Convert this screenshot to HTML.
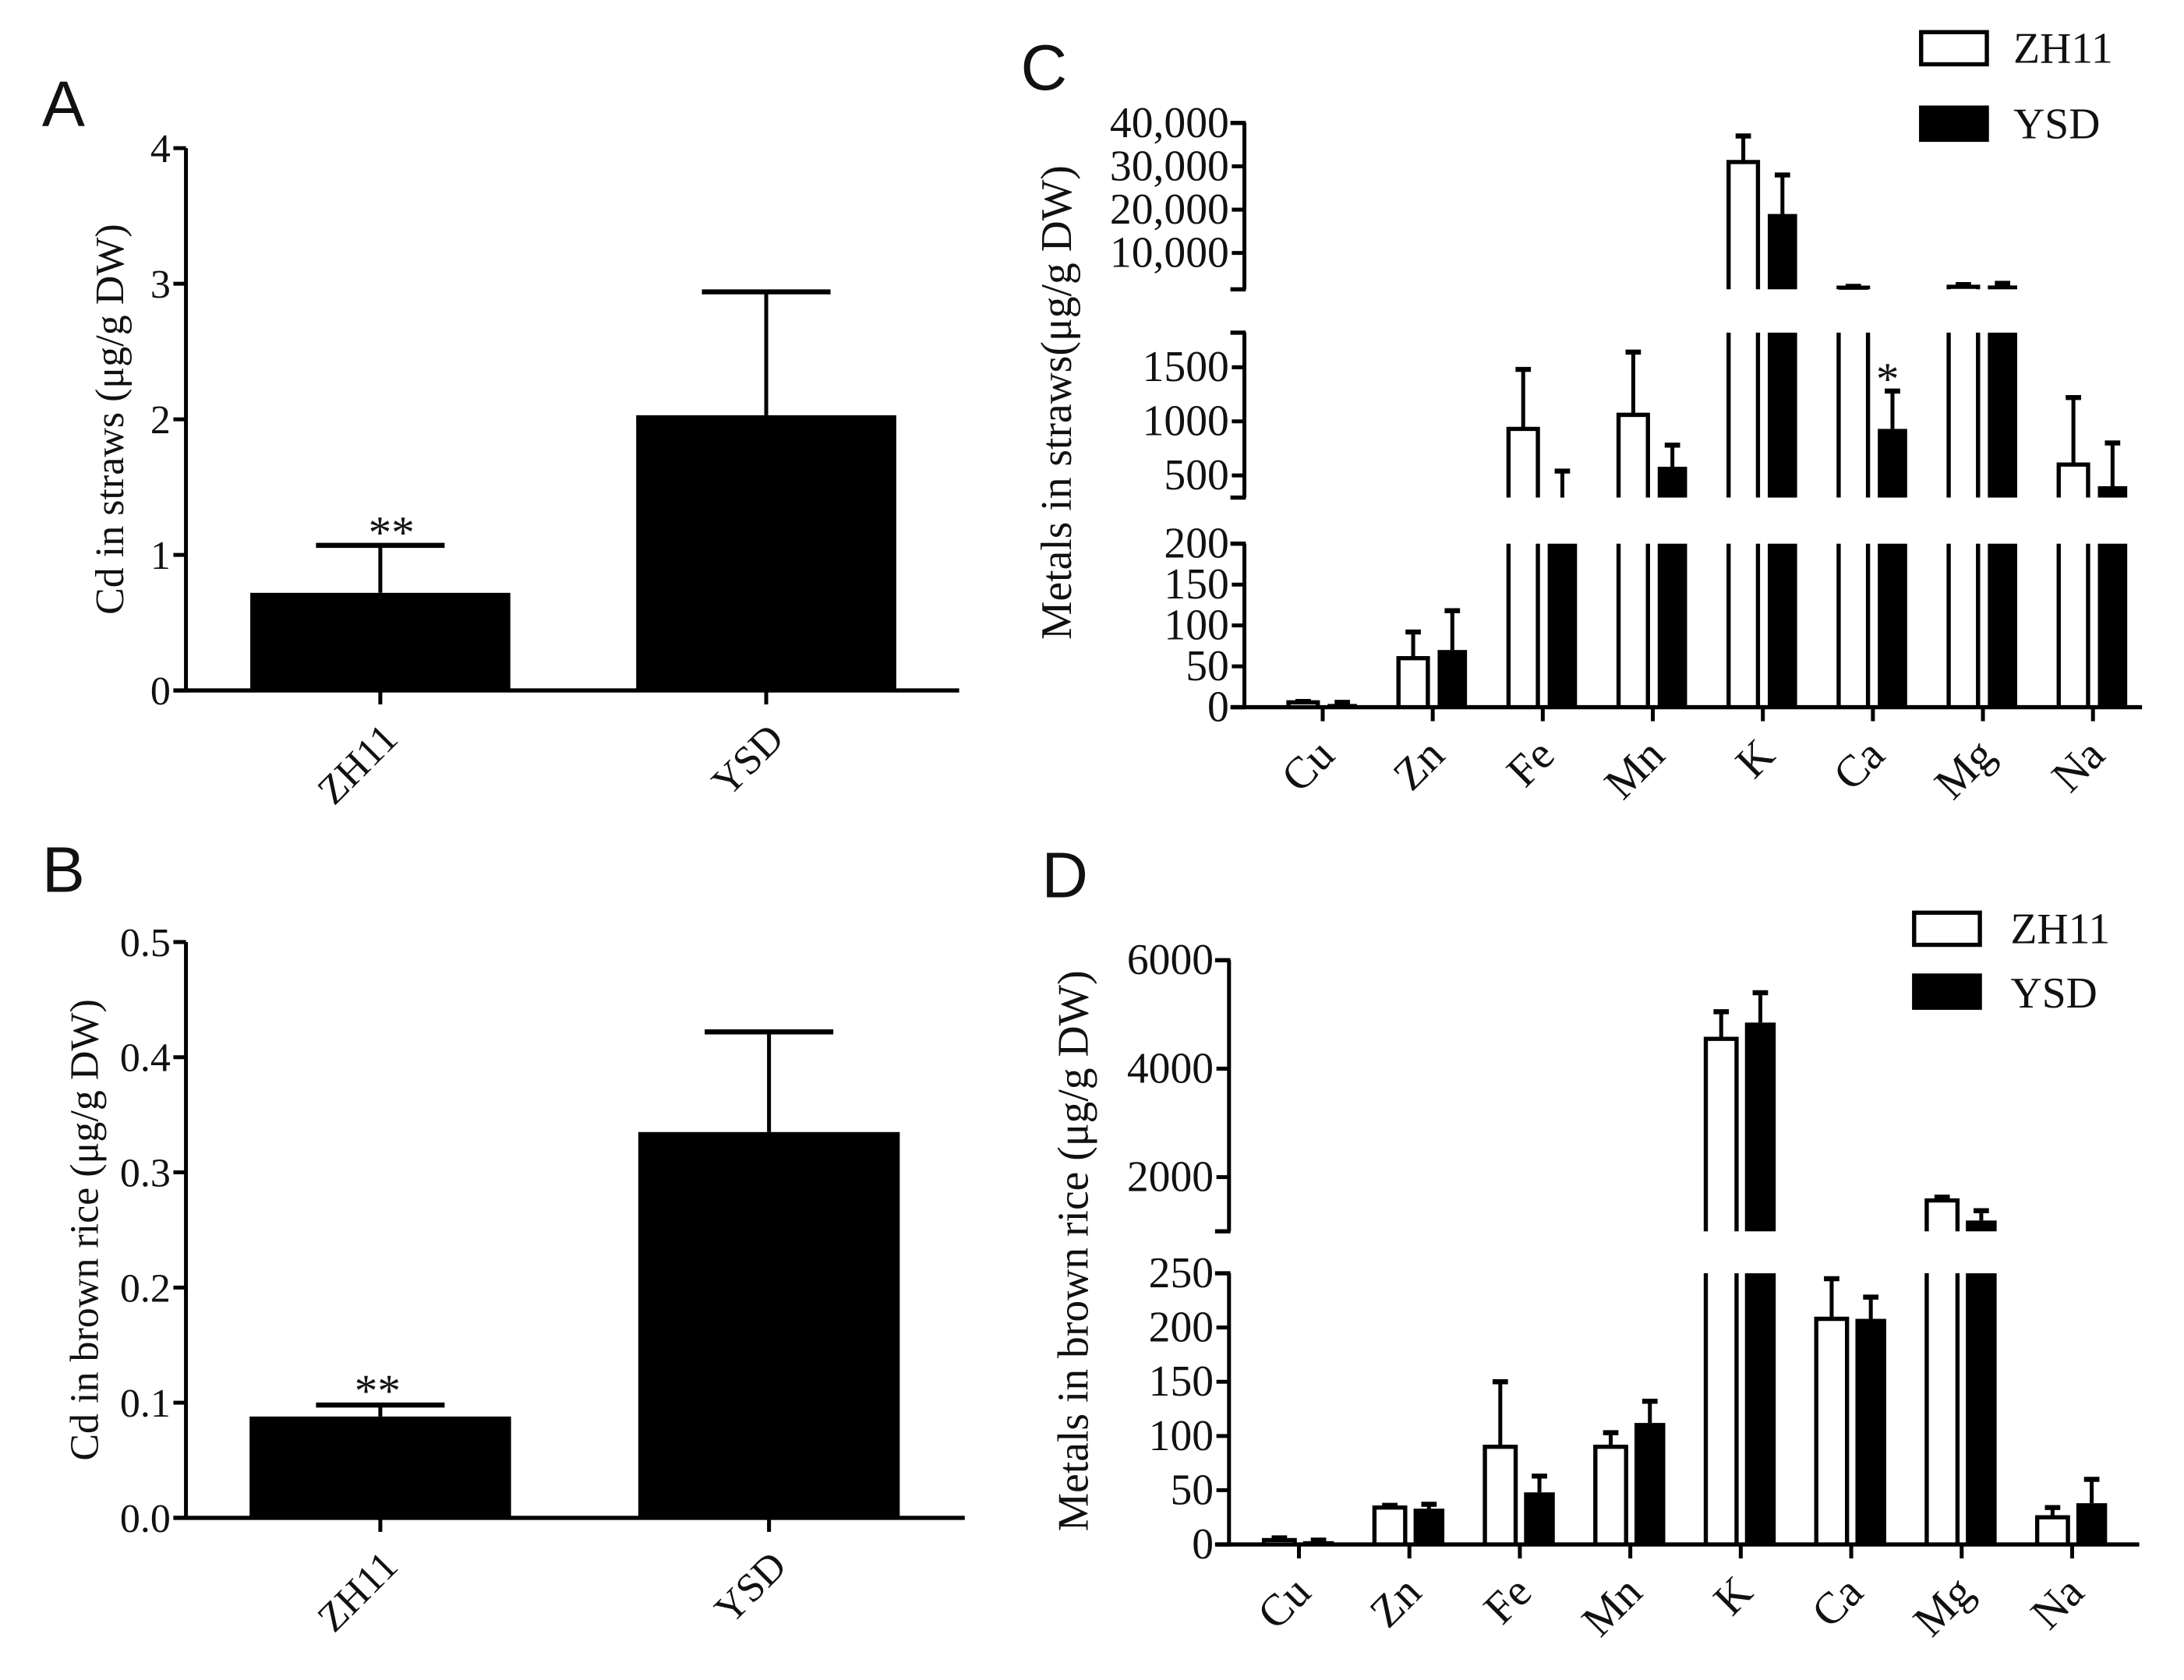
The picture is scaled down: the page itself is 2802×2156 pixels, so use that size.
<!DOCTYPE html>
<html><head><meta charset="utf-8"><style>
html,body{margin:0;padding:0;background:#fff;}
svg{display:block;}
text{font-family:"Liberation Serif",serif;fill:#111;}
.lt{font-family:"Liberation Sans",sans-serif;}
</style></head><body>
<svg id="fig" xmlns="http://www.w3.org/2000/svg" width="2802" height="2156" viewBox="0 0 1562 1202" preserveAspectRatio="none">
<text class="lt" x="30" y="90" font-size="46">A</text>
<text class="lt" x="30" y="638" font-size="46">B</text>
<text class="lt" x="730" y="64" font-size="46">C</text>
<text class="lt" x="745" y="642" font-size="46">D</text>
<text transform="translate(88,300) rotate(-90)" text-anchor="middle" font-size="29">Cd in straws (μg/g DW)</text>
<text transform="translate(70,880) rotate(-90)" text-anchor="middle" font-size="29">Cd in brown rice (μg/g DW)</text>
<text transform="translate(766,288) rotate(-90)" text-anchor="middle" font-size="31">Metals in straws(μg/g DW)</text>
<text transform="translate(778,895) rotate(-90)" text-anchor="middle" font-size="31">Metals in brown rice (μg/g DW)</text>
<g>
<rect x="1374" y="23" width="47" height="23" fill="#fff" stroke="#000" stroke-width="3"/>
<text x="1440" y="45" font-size="31">ZH11</text>
<rect x="1374" y="77" width="47" height="23" fill="#000" stroke="#000" stroke-width="3"/>
<text x="1440" y="99" font-size="31">YSD</text>
</g>
<g>
<rect x="1369" y="653" width="47" height="23" fill="#fff" stroke="#000" stroke-width="3"/>
<text x="1438" y="675" font-size="31">ZH11</text>
<rect x="1369" y="698" width="47" height="23" fill="#000" stroke="#000" stroke-width="3"/>
<text x="1438" y="721" font-size="31">YSD</text>
</g>
</svg>
<script>
// Panel A data
const aCats = ["ZH11", "YSD"];
const aVals = [0.72, 2.03];
const aErrs = [1.07, 2.94];
const aTicks = [0, 1, 2, 3, 4];
const aTickLabels = ["0", "1", "2", "3", "4"];
// Panel B data
const bCats = ["ZH11", "YSD"];
const bVals = [0.088, 0.335];
const bErrs = [0.098, 0.422];
const bTicks = [0, 0.1, 0.2, 0.3, 0.4, 0.5];
const bTickLabels = ["0.0", "0.1", "0.2", "0.3", "0.4", "0.5"];
// Panel C data
const metals = ["Cu", "Zn", "Fe", "Mn", "K", "Ca", "Mg", "Na"];
const cZH11 = [6, 60, 930, 1060, 31000, 2000, 2200, 600];
const cZH11Err = [7, 92, 1480, 1640, 37000, 2300, 2700, 1220];
const cYSD = [4, 70, 250, 580, 19000, 930, 2500, 400];
const cYSDErr = [6, 118, 540, 780, 28000, 1280, 3000, 800];
const cTicks = [0, 50, 100, 150, 200, 500, 1000, 1500, 10000, 20000, 30000, 40000];
const cTickLabels = ["0", "50", "100", "150", "200", "500", "1000", "1500", "10,000", "20,000", "30,000", "40,000"];
// Panel D data
const dZH11 = [4, 34, 90, 90, 4550, 208, 1570, 25];
const dZH11Err = [6, 36, 150, 103, 5050, 245, 1630, 34];
const dYSD = [3, 33, 48, 112, 4850, 208, 1200, 38];
const dYSDErr = [4, 37, 63, 132, 5400, 228, 1380, 60];
const dTicks = [0, 50, 100, 150, 200, 250, 2000, 4000, 6000];
const dTickLabels = ["0", "50", "100", "150", "200", "250", "2000", "4000", "6000"];

const NS = "http://www.w3.org/2000/svg";
const svg = document.getElementById("fig");
function mk(tag, attrs, parent) {
  const e = document.createElementNS(NS, tag);
  for (const k in attrs) e.setAttribute(k, attrs[k]);
  (parent || svg).appendChild(e);
  return e;
}
function makeScale(segs) {
  return function (v) {
    for (const s of segs) {
      if (v >= s.v0 && v <= s.v1) return s.y0 + (v - s.v0) / (s.v1 - s.v0) * (s.y1 - s.y0);
    }
    return null;
  };
}
function segOf(segs, v) {
  for (const s of segs) if (v >= s.v0 && v <= s.v1) return s;
  return segs[segs.length - 1];
}
function segY(s, v) { return s.y0 + (v - s.v0) / (s.v1 - s.v0) * (s.y1 - s.y0); }

function drawAxes(p) {
  const g = mk("g", {});
  
  
  for (const s of p.segs) {
    const l = mk("line", {x1: p.ax, x2: p.ax, y1: s.y0, y2: s.y1, stroke: "#000", "stroke-width": 2.8}, g);
    
    
    if (p.endTicks) {
      for (const yy of [s.y0, s.y1]) {
        const t = mk("line", {x1: p.ax - 10, x2: p.ax + 1, y1: yy, y2: yy, stroke: "#000", "stroke-width": 3}, g);
        
        
      }
    }
  }
  p.ticks.forEach((v, i) => {
    const y = p.scale(v);
    const t = mk("line", {x1: p.ax - 9, x2: p.ax, y1: y, y2: y, stroke: "#000", "stroke-width": 2.8}, g);
    
    
    const tx = mk("text", {x: p.ax - 11, y: y + 10, "text-anchor": "end", "font-size": p.fs}, g);
    tx.textContent = p.tickLabels[i];
    
    
  });
  const xa = mk("line", {x1: p.ax - 9, x2: p.xEnd, y1: p.base, y2: p.base, stroke: "#000", "stroke-width": 3}, g);
  
  
  p.cats.forEach((c, i) => {
    const x = p.cx(i);
    const t = mk("line", {x1: x, x2: x, y1: p.base, y2: p.base + 10, stroke: "#000", "stroke-width": 2.8}, g);
    
    
    const lx = x + p.lblDx, ly = p.base + p.lblDy;
    const tx = mk("text", {x: lx, y: ly, "text-anchor": "end", "font-size": p.lfs, transform: `rotate(-45 ${lx} ${ly})`}, g);
    tx.textContent = c;
    
    
  });
}

function drawBar(p, xc, w, v, err, filled, name, capW) {
  const g = mk("g", {});
  
  
  const x0 = xc - w / 2, x1 = xc + w / 2;
  for (const s of p.segs) {
    if (v <= s.v0) continue;
    const yb = s.y0, yt = segY(s, Math.min(v, s.v1));
    const topIn = v <= s.v1;
    if (filled) {
      const r = mk("rect", {x: x0, y: yt, width: w, height: Math.max(yb - yt, 0.5), fill: "#000"}, g);
      
      
    } else {
      const d = topIn ? `M${x0},${yb} L${x0},${yt} L${x1},${yt} L${x1},${yb}` : `M${x0},${yb} L${x0},${yt} M${x1},${yt} L${x1},${yb}`;
      const r = mk("path", {d: d, fill: "none", stroke: "#000", "stroke-width": 3}, g);
      
      
    }
  }
  const es = segOf(p.segs, err);
  const from = segY(es, Math.max(v, es.v0));
  const ye = segY(es, err);
  const el = mk("line", {x1: xc, x2: xc, y1: from, y2: ye, stroke: "#000", "stroke-width": 2.8}, g);
  
  
  const ec = mk("line", {x1: xc - capW / 2, x2: xc + capW / 2, y1: ye, y2: ye, stroke: "#000", "stroke-width": 3.6}, g);
  
  
}

// Panel A
(function () {
  const segs = [{v0: 0, v1: 4, y0: 494, y1: 106}];
  const p = {name: "panel-a", segs: segs, scale: makeScale(segs), ax: 133, base: 494, xEnd: 686,
    ticks: aTicks, tickLabels: aTickLabels, fs: 29, cats: aCats, cx: i => 272 + i * 276,
    lblDx: 14, lblDy: 36, lfs: 29};
  drawAxes(p);
  aCats.forEach((c, i) => drawBar(p, p.cx(i), 186, aVals[i], aErrs[i], true, 'bar-' + c.toLowerCase(), 92));
  const st = mk("text", {x: 280, y: 392, "text-anchor": "middle", "font-size": 33});
  st.textContent = "**";
  
  
})();
// Panel B
(function () {
  const segs = [{v0: 0, v1: 0.5, y0: 1086, y1: 674}];
  const p = {name: "panel-b", segs: segs, scale: makeScale(segs), ax: 133, base: 1086, xEnd: 690,
    ticks: bTicks, tickLabels: bTickLabels, fs: 29, cats: bCats, cx: i => 272 + i * 278,
    lblDx: 14, lblDy: 36, lfs: 29};
  drawAxes(p);
  bCats.forEach((c, i) => drawBar(p, p.cx(i), 187, bVals[i], bErrs[i], true, 'bar-' + c.toLowerCase(), 92));
  const st = mk("text", {x: 270, y: 1006, "text-anchor": "middle", "font-size": 33});
  st.textContent = "**";
  
  
})();
// Panel C
(function () {
  const segs = [{v0: 0, v1: 200, y0: 506, y1: 389}, {v0: 295, v1: 1820, y0: 356, y1: 238}, {v0: 1613, v1: 40000, y0: 207, y1: 88}];
  const p = {name: "panel-c", segs: segs, scale: makeScale(segs), ax: 890, base: 506, xEnd: 1532,
    ticks: cTicks, tickLabels: cTickLabels, fs: 31, endTicks: true, cats: metals, cx: i => 946 + i * 78.7,
    lblDx: 10, lblDy: 36, lfs: 32};
  drawAxes(p);
  metals.forEach((m, i) => {
    drawBar(p, p.cx(i) - 14, 21, cZH11[i], cZH11Err[i], false, 'bar-zh11-' + m.toLowerCase(), 11);
    drawBar(p, p.cx(i) + 14, 21, cYSD[i], cYSDErr[i], true, 'bar-ysd-' + m.toLowerCase(), 11);
  });
  const st = mk("text", {x: 1350, y: 282, "text-anchor": "middle", "font-size": 33});
  st.textContent = "*";
  
  
})();
// Panel D
(function () {
  const segs = [{v0: 0, v1: 250, y0: 1105, y1: 911}, {v0: 1000, v1: 6000, y0: 881, y1: 687}];
  const p = {name: "panel-d", segs: segs, scale: makeScale(segs), ax: 879, base: 1105, xEnd: 1530,
    ticks: dTicks, tickLabels: dTickLabels, fs: 31, endTicks: true, cats: metals, cx: i => 929 + i * 79,
    lblDx: 10, lblDy: 36, lfs: 32};
  drawAxes(p);
  metals.forEach((m, i) => {
    drawBar(p, p.cx(i) - 14, 22, dZH11[i], dZH11Err[i], false, 'bar-zh11-' + m.toLowerCase(), 11);
    drawBar(p, p.cx(i) + 14, 22, dYSD[i], dYSDErr[i], true, 'bar-ysd-' + m.toLowerCase(), 11);
  });
})();
</script>
</body></html>
